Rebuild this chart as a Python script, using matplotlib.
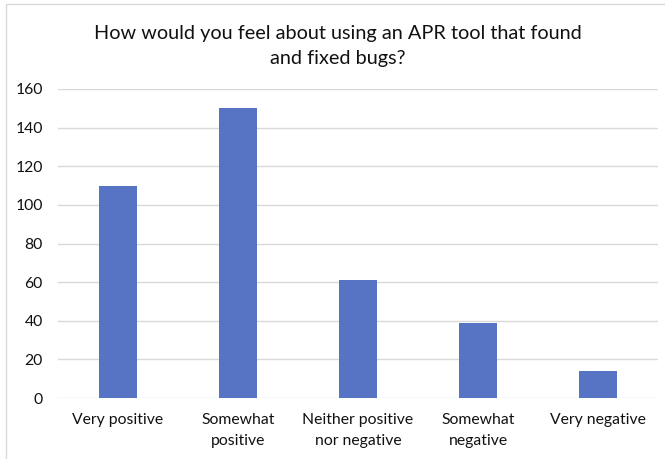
import matplotlib
matplotlib.use("Agg")
import matplotlib.pyplot as plt
from matplotlib.patches import Rectangle

categories = ["Very positive", "Somewhat\npositive", "Neither positive\nnor negative",
              "Somewhat\nnegative", "Very negative"]
values = [110, 150, 61, 39, 14]
yticks = [0, 20, 40, 60, 80, 100, 120, 140, 160]
title = "How would you feel about using an APR tool that found\nand fixed bugs?"

W, H = 665, 459
fig = plt.figure(figsize=(W / 100, H / 100), dpi=100)
plt.rcParams['font.family'] = ['Lato', 'DejaVu Sans']

# chart frame
fig.patches.append(Rectangle((6 / W, -0.1), 1.1, 1 - 4 / H + 0.1, transform=fig.transFigure,
                             facecolor='white', edgecolor='#d9d9d9', linewidth=1.0, zorder=-5))

ax = fig.add_axes([58 / W, 1 - 398 / H, 600 / W, (398 - 89) / H])
ax.set_zorder(2)
ax.set_facecolor('none')
x = range(len(categories))
ax.bar(x, values, width=0.32, color='#5673c4', zorder=3)
ax.set_xlim(-0.5, len(categories) - 0.5)
ax.set_ylim(0, 160)
ax.set_yticks(yticks)
ax.set_yticklabels([str(t) for t in yticks], fontsize=11.3, color='#111111')
ax.set_xticks(list(x))
ax.set_xticklabels(categories, fontsize=11.3, color='#111111', linespacing=1.6)
ax.tick_params(axis='both', length=0)
ax.tick_params(axis='y', pad=11)
ax.tick_params(axis='x', pad=11)
ax.yaxis.grid(True, color='#d9d9d9', linewidth=1.0, zorder=0)
for s in ax.spines.values():
    s.set_visible(False)

fig.text(338 / W, 1 - 46 / H, title, fontsize=14.3, ha='center', va='center',
         color='#111111', linespacing=1.6, zorder=3)

fig.savefig("out.png", dpi=100)
